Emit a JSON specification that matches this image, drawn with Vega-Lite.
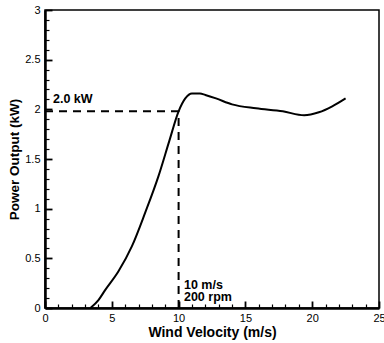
{
  "$schema": "https://vega.github.io/schema/vega-lite/v6.json",
  "autosize": {"type": "none"},
  "padding": {"left": 45, "top": 10, "right": 5, "bottom": 35},
  "width": 334,
  "height": 298,
  "background": "white",
  "config": {
    "view": {"stroke": "black", "strokeWidth": 1.5},
    "font": "Liberation Sans",
    "axis": {
      "domainColor": "black",
      "domainWidth": 2.5,
      "ticks": true,
      "tickColor": "#000000",
      "tickOpacity": 1,
      "tickWidth": 1.5,
      "zindex": 2,
      "grid": false,
      "labelFont": "Liberation Sans",
      "labelFontSize": 11,
      "labelColor": "black",
      "titleFont": "Liberation Sans",
      "titleFontWeight": "bold",
      "titleColor": "black"
    }
  },
  "datasets": {
    "curve": [
      {"v": 3.4, "p": 0.0},
      {"v": 4.0, "p": 0.08},
      {"v": 4.5, "p": 0.18},
      {"v": 5.5, "p": 0.37},
      {"v": 6.5, "p": 0.62},
      {"v": 7.5, "p": 0.96},
      {"v": 8.5, "p": 1.33},
      {"v": 9.3, "p": 1.68},
      {"v": 10.0, "p": 1.98},
      {"v": 10.5, "p": 2.11},
      {"v": 11.0, "p": 2.16},
      {"v": 11.6, "p": 2.16},
      {"v": 12.0, "p": 2.145},
      {"v": 12.8, "p": 2.11},
      {"v": 14.0, "p": 2.05},
      {"v": 15.8, "p": 2.01},
      {"v": 17.8, "p": 1.98},
      {"v": 19.4, "p": 1.94},
      {"v": 20.5, "p": 1.97},
      {"v": 21.5, "p": 2.03},
      {"v": 22.5, "p": 2.11}
    ],
    "guides": [
      {"v": 0, "p": 1.98, "v2": 10, "p2": 1.98},
      {"v": 10, "p": 0, "v2": 10, "p2": 1.98}
    ],
    "notes": [
      {"v": 0.6, "p": 2.06, "label": "2.0 kW"},
      {"v": 10.4, "p": 0.19, "label": "10 m/s"},
      {"v": 10.4, "p": 0.07, "label": "200 rpm"}
    ]
  },
  "resolve": {"axis": {"x": "independent", "y": "independent"}},
  "layer": [
    {
      "data": {"name": "curve"},
      "mark": {"type": "line", "color": "black", "strokeWidth": 2, "interpolate": "monotone"},
      "encoding": {
        "x": {
          "field": "v", "type": "quantitative",
          "scale": {"domain": [0, 25], "nice": false, "zero": false},
          "axis": {
            "orient": "bottom",
            "offset": -7,
            "ticks": true,
            "tickSize": 7,
            "tickColor": "black",
            "tickWidth": 1.8,
            "domain": false,
            "title": "Wind Velocity (m/s)",
            "titleFontSize": 14,
            "values": [0, 5, 10, 15, 20, 25],
            "format": "~g",
            "labelPadding": 4,
            "titlePadding": 2,
            "labelFlush": false,
            "labelOverlap": false
          }
        },
        "y": {
          "field": "p", "type": "quantitative",
          "scale": {"domain": [0, 3], "nice": false, "zero": false},
          "axis": {
            "orient": "left",
            "offset": -7,
            "ticks": true,
            "tickSize": 7,
            "tickColor": "black",
            "tickWidth": 1.8,
            "domain": false,
            "title": "Power Output (kW)",
            "titleFontSize": 13.5,
            "values": [0, 0.5, 1, 1.5, 2, 2.5, 3],
            "format": "~g",
            "labelPadding": 5,
            "titlePadding": 3,
            "labelFlush": false,
            "labelOverlap": false
          }
        }
      }
    },
    {
      "data": {"name": "guides"},
      "mark": {"type": "rule", "color": "black", "strokeWidth": 2, "strokeDash": [8, 6]},
      "encoding": {
        "x": {
          "field": "v", "type": "quantitative",
          "axis": {
            "orient": "bottom", "offset": -4, "ticks": true, "tickSize": 4, "tickWidth": 1.2, "tickColor": "black",
            "domain": false, "labels": false, "title": null,
            "values": [1,2,3,4,6,7,8,9,11,12,13,14,16,17,18,19,21,22,23,24]
          }
        },
        "y": {
          "field": "p", "type": "quantitative",
          "axis": {
            "orient": "left", "offset": -4, "ticks": true, "tickSize": 4, "tickWidth": 1.2, "tickColor": "black",
            "domain": false, "labels": false, "title": null,
            "values": [0.1,0.2,0.3,0.4,0.6,0.7,0.8,0.9,1.1,1.2,1.3,1.4,1.6,1.7,1.8,1.9,2.1,2.2,2.3,2.4,2.6,2.7,2.8,2.9]
          }
        },
        "x2": {"field": "v2"},
        "y2": {"field": "p2"}
      }
    },
    {
      "data": {"name": "notes"},
      "mark": {"type": "text", "align": "left", "baseline": "alphabetic", "fontWeight": "bold", "fontSize": 12.5, "color": "black", "font": "Liberation Sans"},
      "encoding": {
        "x": {
          "field": "v", "type": "quantitative",
          "axis": {"orient": "bottom", "ticks": false, "labels": false, "title": null, "domain": true}
        },
        "y": {
          "field": "p", "type": "quantitative",
          "axis": {"orient": "left", "ticks": false, "labels": false, "title": null, "domain": true}
        },
        "text": {"field": "label"}
      }
    }
  ]
}
